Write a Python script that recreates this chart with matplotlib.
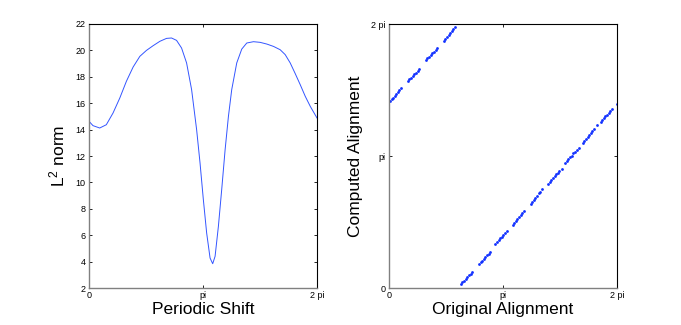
import numpy as np
import matplotlib
matplotlib.use("Agg")
import matplotlib.pyplot as plt

plt.rcParams['font.family'] = ['Liberation Sans', 'DejaVu Sans']
plt.rcParams['mathtext.fontset'] = 'custom'
plt.rcParams['mathtext.rm'] = 'Liberation Sans'

# ---- Left panel: L2 norm vs periodic shift (x in units of pi) ----
shift_pi = [0.000, 0.035, 0.094, 0.152, 0.211, 0.270, 0.328, 0.387, 0.446, 0.504,
            0.563, 0.622, 0.680, 0.724, 0.768, 0.812, 0.856, 0.900, 0.944, 0.974,
            1.003, 1.032, 1.062, 1.085, 1.106, 1.135, 1.164, 1.194, 1.223, 1.252,
            1.296, 1.340, 1.384, 1.443, 1.501, 1.560, 1.619, 1.677, 1.721, 1.765,
            1.809, 1.853, 1.897, 1.941, 2.000]
l2_norm = [14.63, 14.30, 14.12, 14.37, 15.26, 16.39, 17.66, 18.74, 19.55, 20.00,
           20.36, 20.69, 20.91, 20.94, 20.76, 20.18, 19.05, 17.03, 14.00, 11.47,
           8.70, 6.17, 4.27, 3.84, 4.40, 6.67, 9.45, 12.48, 15.00, 17.03,
           19.05, 20.10, 20.56, 20.66, 20.61, 20.48, 20.30, 20.05, 19.68, 19.05,
           18.24, 17.40, 16.52, 15.76, 14.88]
l2_yticks = [2, 4, 6, 8, 10, 12, 14, 16, 18, 20, 22]

# ---- Right panel: computed vs original alignment (units of pi) ----
orig_pi = [
    # upper branch
    0.009, 0.023, 0.036, 0.050, 0.064, 0.078, 0.091, 0.105,
    0.164, 0.179, 0.193, 0.208, 0.222, 0.237, 0.251, 0.266,
    0.322, 0.337, 0.351, 0.366, 0.380, 0.395, 0.409, 0.424,
    0.480, 0.494, 0.508, 0.522, 0.537, 0.551, 0.565, 0.579,
    # lower branch
    0.629, 0.644, 0.658, 0.673, 0.687, 0.702, 0.716, 0.731,
    0.792, 0.805, 0.819, 0.832, 0.846, 0.859, 0.873, 0.886,
    0.932, 0.946, 0.961, 0.975, 0.989, 1.003, 1.018, 1.032,
    1.085, 1.099, 1.113, 1.127, 1.142, 1.156, 1.170, 1.184,
    1.243, 1.257, 1.271, 1.285, 1.300, 1.314, 1.328, 1.342,
    1.397, 1.411, 1.425, 1.439, 1.452, 1.466, 1.480, 1.494,
    1.515,
    1.544, 1.559, 1.573, 1.588, 1.602, 1.617, 1.631, 1.646,
    1.669,
    1.699, 1.713, 1.727, 1.742, 1.756, 1.770, 1.784, 1.798,
    1.822,
    1.857, 1.871, 1.885, 1.899, 1.912, 1.926, 1.940, 1.954,
    1.998]
comp_pi = [
    1.419, 1.430, 1.441, 1.457, 1.468, 1.485, 1.497, 1.513,
    1.570, 1.584, 1.593, 1.609, 1.621, 1.632, 1.646, 1.657,
    1.727, 1.741, 1.751, 1.766, 1.779, 1.790, 1.804, 1.816,
    1.871, 1.887, 1.900, 1.916, 1.931, 1.944, 1.961, 1.975,
    0.030, 0.044, 0.056, 0.071, 0.082, 0.098, 0.109, 0.123,
    0.182, 0.196, 0.208, 0.223, 0.234, 0.249, 0.261, 0.275,
    0.333, 0.348, 0.360, 0.376, 0.389, 0.405, 0.417, 0.432,
    0.477, 0.494, 0.507, 0.525, 0.538, 0.556, 0.569, 0.586,
    0.634, 0.651, 0.666, 0.684, 0.698, 0.716, 0.731, 0.748,
    0.788, 0.803, 0.816, 0.832, 0.845, 0.861, 0.874, 0.889,
    0.902,
    0.949, 0.964, 0.975, 0.991, 1.003, 1.019, 1.030, 1.045,
    1.058,
    1.101, 1.116, 1.129, 1.145, 1.158, 1.174, 1.187, 1.202,
    1.235,
    1.258, 1.273, 1.285, 1.300, 1.312, 1.328, 1.339, 1.354,
    1.392]

pi_ticks = [0, 1, 2]
pi_labels = ['0', 'pi', '2 pi']

fig = plt.figure(figsize=(6.81, 3.25), dpi=100)
ax1 = fig.add_axes([89/681, 37/325, 228/681, 264/325])
ax2 = fig.add_axes([389/681, 37/325, 228/681, 264/325])

ax1.plot(np.array(shift_pi) * np.pi, l2_norm, color='#3355ff', lw=0.7)
ax1.set_xlim(0, 2 * np.pi)
ax1.set_ylim(2, 22)
ax1.set_yticks(l2_yticks)
ax1.set_xlabel('Periodic Shift', fontsize=12.5, labelpad=1)
ax1.set_ylabel(r'$\mathregular{L^2}$ norm', fontsize=12.5, labelpad=6)

ax2.plot(np.array(orig_pi) * np.pi, np.array(comp_pi) * np.pi, '.',
         color='#1030ff', ms=4.0, mew=0)
ax2.set_xlim(0, 2 * np.pi)
ax2.set_ylim(0, 2 * np.pi)
ax2.set_yticks(np.array(pi_ticks) * np.pi)
ax2.set_yticklabels(pi_labels)
ax2.set_xlabel('Original Alignment', fontsize=12.5, labelpad=1)
ax2.set_ylabel('Computed Alignment', fontsize=12.5, labelpad=6)

for ax in (ax1, ax2):
    ax.set_xticks(np.array(pi_ticks) * np.pi)
    ax.set_xticklabels(pi_labels)
    ax.tick_params(direction='in', length=2.5, width=0.6, labelsize=6.5,
                   top=True, right=True, pad=2.5)
    for s in ('top', 'right'):
        ax.spines[s].set_color('black')
        ax.spines[s].set_linewidth(0.8)
    for s in ('left', 'bottom'):
        ax.spines[s].set_color('#808080')
        ax.spines[s].set_linewidth(1.0)

fig.savefig('out.png', dpi=100)
